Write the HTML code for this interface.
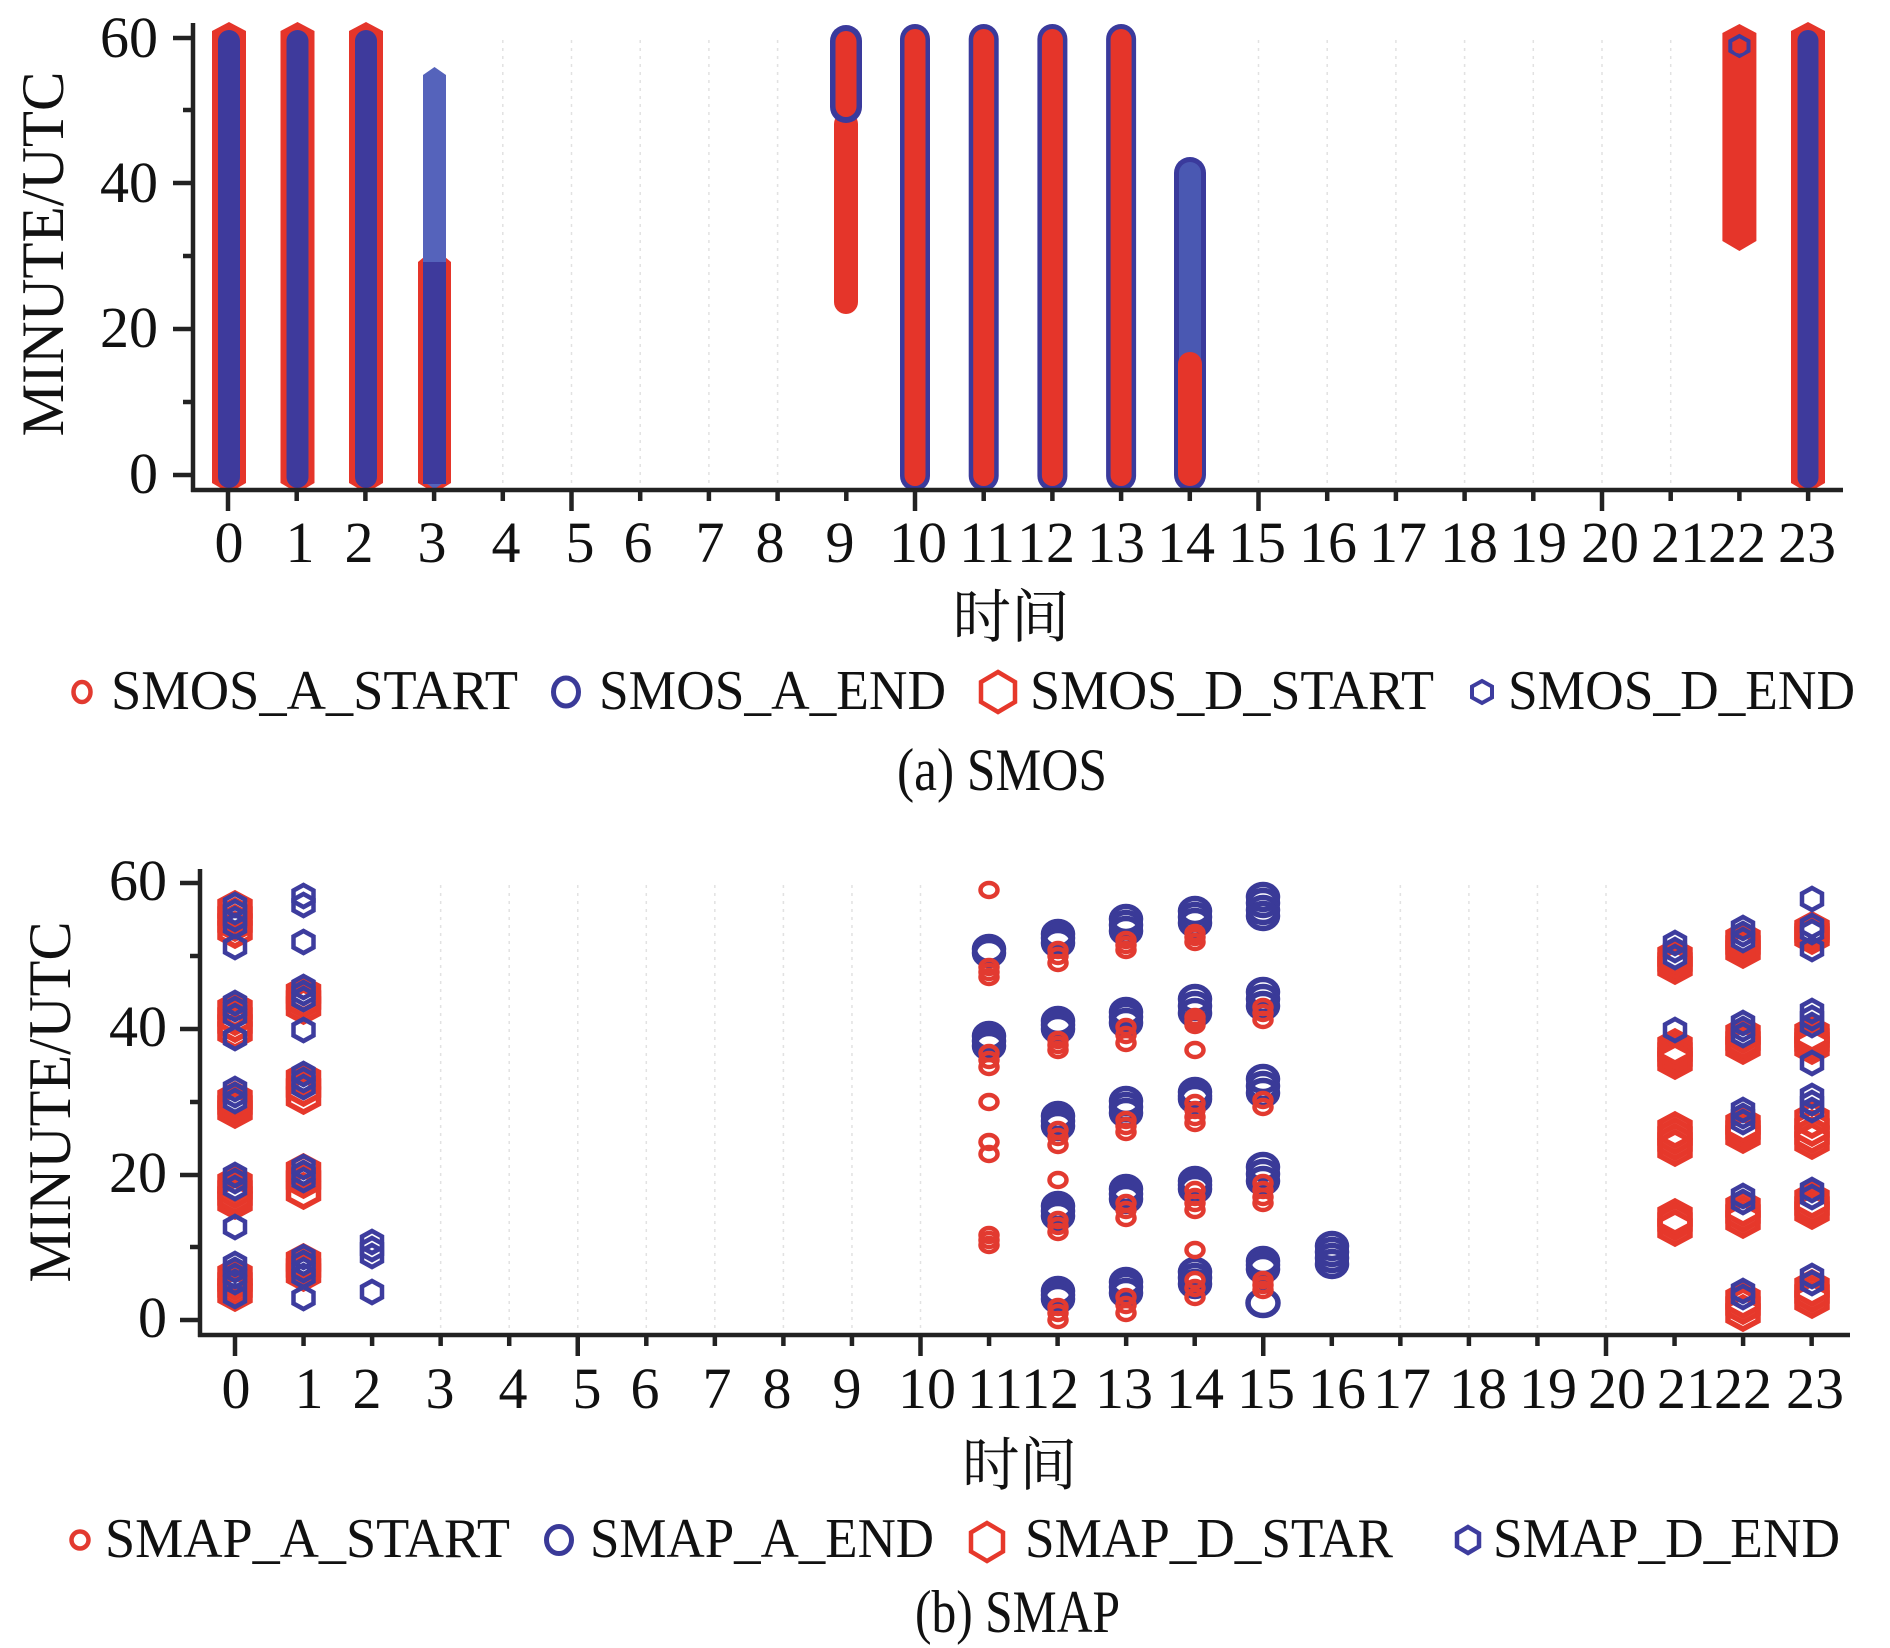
<!DOCTYPE html>
<html>
<head>
<meta charset="utf-8">
<style>
html,body{margin:0;padding:0;background:#fff;}
svg{display:block;}
text{font-family:"Liberation Serif","Noto Serif CJK SC",serif;fill:#111;}
.cjk{font-family:"Liberation Serif","Noto Serif CJK SC","Noto Sans CJK SC",serif;}
</style>
</head>
<body>
<svg width="1890" height="1648" viewBox="0 0 1890 1648" xmlns="http://www.w3.org/2000/svg" xmlns:xlink="http://www.w3.org/1999/xlink">
<defs>
  <ellipse id="as" rx="8.5" ry="7" fill="none" stroke="#e23a30" stroke-width="4.5"/>
  <ellipse id="ae" rx="14.5" ry="12.5" fill="none" stroke="#3a3a98" stroke-width="5.5"/>
  <polygon id="ds" points="0,-16 15,-8 15,8 0,16 -15,8 -15,-8" fill="none" stroke="#e6382b" stroke-width="5.5"/>
  <polygon id="de" points="0,-11 10,-5.5 10,5.5 0,11 -10,5.5 -10,-5.5" fill="none" stroke="#3d3c9e" stroke-width="4.5"/>
</defs>
<rect width="1890" height="1648" fill="#fff"/>

<!-- ================= TOP CHART (a) SMOS ================= -->
<g stroke="#e2e2e2" stroke-width="1.5" stroke-dasharray="3,5" fill="none">
<path d="M502.8 40V488M571.5 40V488M640.2 40V488M708.9 40V488M777.6 40V488M1258.5 40V488M1327.2 40V488M1395.9 40V488M1464.6 40V488M1533.3 40V488M1602 40V488M1670.7 40V488"/>
</g>

<g>
  <polygon points="229,22 246,31 246,483 229,493 212,483 212,31" fill="#e5352a"/>
  <rect x="218" y="30" width="22" height="458" rx="11" fill="#3e3a9c"/>
  <polygon points="297.5,22 314.5,31 314.5,483 297.5,493 280.5,483 280.5,31" fill="#e5352a"/>
  <rect x="286.5" y="30" width="22" height="458" rx="11" fill="#3e3a9c"/>
  <polygon points="366,22 383,31 383,483 366,493 349,483 349,31" fill="#e5352a"/>
  <rect x="355" y="30" width="22" height="458" rx="11" fill="#3e3a9c"/>
</g>
<g>
  <polygon points="418,262 424,257 445,257 451,262 451,483 434.5,493 418,483" fill="#e5352a"/>
  <polygon points="434.5,67 446,75 446,481 434.5,489 423,481 423,75" fill="#5563bb"/>
  <rect x="423" y="262" width="23" height="222" fill="#3e3a9c"/>
</g>
<g>
  <rect x="834" y="112" width="24" height="202" rx="12" fill="#e5352a"/>
  <rect x="830" y="25" width="32" height="98" rx="16" fill="#3a3a9c"/>
  <rect x="835.5" y="31" width="21" height="86" rx="10.5" fill="#e5352a"/>
</g>
<g>
  <rect x="900" y="24" width="30" height="467" rx="15" fill="#3a3a9c"/>
  <rect x="904.5" y="29" width="21" height="457" rx="10.5" fill="#e5352a"/>
  <rect x="968.7" y="24" width="30" height="467" rx="15" fill="#3a3a9c"/>
  <rect x="973.2" y="29" width="21" height="457" rx="10.5" fill="#e5352a"/>
  <rect x="1037.4" y="24" width="30" height="467" rx="15" fill="#3a3a9c"/>
  <rect x="1041.9" y="29" width="21" height="457" rx="10.5" fill="#e5352a"/>
  <rect x="1106.1" y="24" width="30" height="467" rx="15" fill="#3a3a9c"/>
  <rect x="1110.6" y="29" width="21" height="457" rx="10.5" fill="#e5352a"/>
</g>
<g>
  <rect x="1174" y="157" width="32" height="334" rx="16" fill="#3a3a9c"/>
  <rect x="1179" y="162" width="22" height="324" rx="11" fill="#4a58b2"/>
  <rect x="1178" y="352" width="24" height="134" rx="12" fill="#e5352a"/>
</g>
<g>
  <polygon points="1739.4,24 1756.4,33 1756.4,241 1739.4,251 1722.4,241 1722.4,33" fill="#e5352a"/>
  <polygon points="1739.4,36 1748.5,41 1748.5,51 1739.4,56 1730.3,51 1730.3,41" fill="none" stroke="#3d3c9e" stroke-width="4"/>
  <ellipse cx="1739.4" cy="48" rx="5" ry="4" fill="none" stroke="#e5352a" stroke-width="3"/>
</g>
<g>
  <polygon points="1808,22 1825,31 1825,483 1808,493 1791,483 1791,31" fill="#e5352a"/>
  <rect x="1797.5" y="30" width="21" height="458" rx="10.5" fill="#3e3a9c"/>
</g>

<g stroke="#222" stroke-width="4.5" fill="none">
  <path d="M193 23V492M191 490H1843"/>
  <path d="M173 38H193M183 110H193M173 183H193M183 256H193M173 329H193M183 402H193M173 475H193"/>
  <path d="M228 490V511M296.7 490V501M365.4 490V501M434.1 490V501M502.8 490V501M571.5 490V511M640.2 490V501M708.9 490V501M777.6 490V501M846.3 490V501M915 490V511M983.7 490V501M1052.4 490V501M1121.1 490V501M1189.8 490V501M1258.5 490V511M1327.2 490V501M1395.9 490V501M1464.6 490V501M1533.3 490V501M1602 490V511M1670.7 490V501M1739.4 490V501M1808.1 490V501"/>
</g>

<g font-size="58" text-anchor="end">
  <text x="158" y="57">60</text>
  <text x="158" y="202">40</text>
  <text x="158" y="347">20</text>
  <text x="158" y="493">0</text>
</g>
<text transform="translate(63,254) rotate(-90)" text-anchor="middle" font-size="60" textLength="365" lengthAdjust="spacingAndGlyphs">MINUTE/UTC</text>

<g font-size="58" text-anchor="middle">
  <text x="229" y="562">0</text><text x="300" y="562">1</text><text x="359" y="562">2</text><text x="432" y="562">3</text>
  <text x="506" y="562">4</text><text x="580" y="562">5</text><text x="638" y="562">6</text><text x="710" y="562">7</text>
  <text x="770" y="562">8</text><text x="840" y="562">9</text><text x="918" y="562">10</text><text x="987" y="562">11</text>
  <text x="1046" y="562">12</text><text x="1116" y="562">13</text><text x="1186" y="562">14</text><text x="1257" y="562">15</text>
  <text x="1328" y="562">16</text><text x="1398" y="562">17</text><text x="1469" y="562">18</text><text x="1538" y="562">19</text>
  <text x="1610" y="562">20</text><text x="1680" y="562">21</text><text x="1737" y="562">22</text><text x="1807" y="562">23</text>
</g>
<text class="cjk" x="1011" y="637" font-size="58" text-anchor="middle" textLength="117" lengthAdjust="spacingAndGlyphs">时间</text>

<g>
  <ellipse cx="82" cy="692" rx="8.5" ry="10" fill="none" stroke="#e23a30" stroke-width="4.5"/>
  <ellipse cx="566" cy="692" rx="12.5" ry="14" fill="none" stroke="#3a3a98" stroke-width="5"/>
  <polygon points="998,672 1015,682 1015,702 998,712 981,702 981,682" fill="none" stroke="#e6382b" stroke-width="4.5"/>
  <polygon points="1482,681 1492,686.5 1492,697.5 1482,703 1472,697.5 1472,686.5" fill="none" stroke="#3d3c9e" stroke-width="4"/>
</g>
<g font-size="56">
  <text x="111" y="709" textLength="407" lengthAdjust="spacingAndGlyphs">SMOS_A_START</text>
  <text x="599" y="709" textLength="347" lengthAdjust="spacingAndGlyphs">SMOS_A_END</text>
  <text x="1030" y="709" textLength="404" lengthAdjust="spacingAndGlyphs">SMOS_D_START</text>
  <text x="1508" y="709" textLength="347" lengthAdjust="spacingAndGlyphs">SMOS_D_END</text>
</g>
<text x="897" y="790" font-size="60" textLength="210" lengthAdjust="spacingAndGlyphs">(a) SMOS</text>

<!-- ================= BOTTOM CHART (b) SMAP ================= -->
<g stroke="#e2e2e2" stroke-width="1.5" stroke-dasharray="3,5" fill="none">
<path d="M440.65 885V1332M509.2 885V1332M577.75 885V1332M646.3 885V1332M714.85 885V1332M783.4 885V1332M851.95 885V1332M920.5 885V1332M1400.35 885V1332M1468.9 885V1332M1537.45 885V1332M1606 885V1332"/>
</g>

<g>
  <use href="#ds" x="235" y="909"/><use href="#ds" x="235" y="916"/><use href="#ds" x="235" y="923"/><use href="#ds" x="235" y="930"/>
  <use href="#de" x="235" y="905"/><use href="#de" x="235" y="912"/><use href="#de" x="235" y="919"/><use href="#de" x="235" y="926"/><use href="#de" x="235" y="947"/>
  <use href="#ds" x="235" y="1010"/><use href="#ds" x="235" y="1017"/><use href="#ds" x="235" y="1024"/><use href="#ds" x="235" y="1031"/>
  <use href="#de" x="235" y="1003"/><use href="#de" x="235" y="1009"/><use href="#de" x="235" y="1016"/><use href="#de" x="235" y="1038"/>
  <use href="#ds" x="235" y="1100"/><use href="#ds" x="235" y="1105"/><use href="#ds" x="235" y="1110"/>
  <use href="#de" x="235" y="1089"/><use href="#de" x="235" y="1095"/><use href="#de" x="235" y="1101"/>
  <use href="#ds" x="235" y="1184"/><use href="#ds" x="235" y="1190"/><use href="#ds" x="235" y="1196"/><use href="#ds" x="235" y="1201"/>
  <use href="#de" x="235" y="1175"/><use href="#de" x="235" y="1181"/><use href="#de" x="235" y="1188"/><use href="#de" x="235" y="1227"/>
  <use href="#ds" x="235" y="1276"/><use href="#ds" x="235" y="1282"/><use href="#ds" x="235" y="1288"/><use href="#ds" x="235" y="1293"/>
  <use href="#de" x="235" y="1264"/><use href="#de" x="235" y="1270"/><use href="#de" x="235" y="1276"/><use href="#de" x="235" y="1282"/><use href="#de" x="235" y="1296"/>
</g>
<g>
  <use href="#de" x="303.5" y="896"/><use href="#de" x="303.5" y="905"/><use href="#de" x="303.5" y="942"/>
  <use href="#ds" x="303.5" y="994"/><use href="#ds" x="303.5" y="1000"/><use href="#ds" x="303.5" y="1006"/>
  <use href="#de" x="303.5" y="987"/><use href="#de" x="303.5" y="993"/><use href="#de" x="303.5" y="999"/><use href="#de" x="303.5" y="1030"/>
  <use href="#ds" x="303.5" y="1080"/><use href="#ds" x="303.5" y="1088"/><use href="#ds" x="303.5" y="1096"/>
  <use href="#de" x="303.5" y="1074"/><use href="#de" x="303.5" y="1080"/><use href="#de" x="303.5" y="1087"/>
  <use href="#ds" x="303.5" y="1172"/><use href="#ds" x="303.5" y="1180"/><use href="#ds" x="303.5" y="1191"/>
  <use href="#de" x="303.5" y="1167"/><use href="#de" x="303.5" y="1173"/><use href="#de" x="303.5" y="1180"/>
  <use href="#ds" x="303.5" y="1262"/><use href="#ds" x="303.5" y="1268"/><use href="#ds" x="303.5" y="1273"/>
  <use href="#de" x="303.5" y="1257"/><use href="#de" x="303.5" y="1263"/><use href="#de" x="303.5" y="1270"/><use href="#de" x="303.5" y="1276"/><use href="#de" x="303.5" y="1298"/>
</g>
<g>
  <use href="#de" x="372" y="1242"/><use href="#de" x="372" y="1249"/><use href="#de" x="372" y="1256"/><use href="#de" x="372" y="1292"/>
</g>

<g>
  <use href="#ae" x="989" y="949"/><use href="#ae" x="989" y="953"/>
  <use href="#ae" x="989" y="1036"/><use href="#ae" x="989" y="1041"/><use href="#ae" x="989" y="1046"/>
  <use href="#as" x="989" y="890"/>
  <use href="#as" x="989" y="967"/><use href="#as" x="989" y="972"/><use href="#as" x="989" y="977"/>
  <use href="#as" x="989" y="1053"/><use href="#as" x="989" y="1060"/><use href="#as" x="989" y="1067"/>
  <use href="#as" x="989" y="1102"/>
  <use href="#as" x="989" y="1142"/><use href="#as" x="989" y="1154"/>
  <use href="#as" x="989" y="1235"/><use href="#as" x="989" y="1240"/><use href="#as" x="989" y="1245"/>
</g>
<g>
  <use href="#ae" x="1058" y="934"/><use href="#ae" x="1058" y="938"/><use href="#ae" x="1058" y="943"/>
  <use href="#ae" x="1058" y="1021"/><use href="#ae" x="1058" y="1025"/><use href="#ae" x="1058" y="1029"/>
  <use href="#ae" x="1058" y="1116"/><use href="#ae" x="1058" y="1121"/><use href="#ae" x="1058" y="1126"/>
  <use href="#ae" x="1058" y="1206"/><use href="#ae" x="1058" y="1211"/><use href="#ae" x="1058" y="1216"/>
  <use href="#ae" x="1058" y="1291"/><use href="#ae" x="1058" y="1295"/><use href="#ae" x="1058" y="1299"/>
  <use href="#as" x="1058" y="950"/><use href="#as" x="1058" y="956"/><use href="#as" x="1058" y="963"/>
  <use href="#as" x="1058" y="1040"/><use href="#as" x="1058" y="1045"/><use href="#as" x="1058" y="1050"/>
  <use href="#as" x="1058" y="1130"/><use href="#as" x="1058" y="1137"/><use href="#as" x="1058" y="1145"/>
  <use href="#as" x="1058" y="1180"/>
  <use href="#as" x="1058" y="1220"/><use href="#as" x="1058" y="1226"/><use href="#as" x="1058" y="1232"/>
  <use href="#as" x="1058" y="1307"/><use href="#as" x="1058" y="1313"/><use href="#as" x="1058" y="1320"/>
</g>
<g>
  <use href="#ae" x="1126" y="919"/><use href="#ae" x="1126" y="925"/><use href="#ae" x="1126" y="931"/>
  <use href="#ae" x="1126" y="1012"/><use href="#ae" x="1126" y="1017"/><use href="#ae" x="1126" y="1023"/>
  <use href="#ae" x="1126" y="1101"/><use href="#ae" x="1126" y="1107"/><use href="#ae" x="1126" y="1113"/>
  <use href="#ae" x="1126" y="1189"/><use href="#ae" x="1126" y="1194"/><use href="#ae" x="1126" y="1199"/>
  <use href="#ae" x="1126" y="1282"/><use href="#ae" x="1126" y="1287"/><use href="#ae" x="1126" y="1293"/>
  <use href="#as" x="1126" y="940"/><use href="#as" x="1126" y="945"/><use href="#as" x="1126" y="950"/>
  <use href="#as" x="1126" y="1027"/><use href="#as" x="1126" y="1035"/><use href="#as" x="1126" y="1043"/>
  <use href="#as" x="1126" y="1120"/><use href="#as" x="1126" y="1126"/><use href="#as" x="1126" y="1132"/>
  <use href="#as" x="1126" y="1203"/><use href="#as" x="1126" y="1210"/><use href="#as" x="1126" y="1218"/>
  <use href="#as" x="1126" y="1297"/><use href="#as" x="1126" y="1305"/><use href="#as" x="1126" y="1313"/>
</g>
<g>
  <use href="#ae" x="1195" y="911"/><use href="#ae" x="1195" y="917"/><use href="#ae" x="1195" y="923"/>
  <use href="#ae" x="1195" y="999"/><use href="#ae" x="1195" y="1006"/><use href="#ae" x="1195" y="1013"/>
  <use href="#ae" x="1195" y="1092"/><use href="#ae" x="1195" y="1096"/><use href="#ae" x="1195" y="1099"/>
  <use href="#ae" x="1195" y="1181"/><use href="#ae" x="1195" y="1185"/><use href="#ae" x="1195" y="1189"/>
  <use href="#ae" x="1195" y="1272"/><use href="#ae" x="1195" y="1278"/><use href="#ae" x="1195" y="1284"/>
  <use href="#as" x="1195" y="933"/><use href="#as" x="1195" y="937"/><use href="#as" x="1195" y="942"/>
  <use href="#as" x="1195" y="1017"/><use href="#as" x="1195" y="1021"/><use href="#as" x="1195" y="1025"/>
  <use href="#as" x="1195" y="1050"/>
  <use href="#as" x="1195" y="1103"/><use href="#as" x="1195" y="1110"/><use href="#as" x="1195" y="1117"/><use href="#as" x="1195" y="1123"/>
  <use href="#as" x="1195" y="1190"/><use href="#as" x="1195" y="1197"/><use href="#as" x="1195" y="1203"/><use href="#as" x="1195" y="1210"/>
  <use href="#as" x="1195" y="1250"/>
  <use href="#as" x="1195" y="1280"/><use href="#as" x="1195" y="1288"/><use href="#as" x="1195" y="1297"/>
</g>
<g>
  <use href="#ae" x="1263" y="897"/><use href="#ae" x="1263" y="903"/><use href="#ae" x="1263" y="910"/><use href="#ae" x="1263" y="916"/>
  <use href="#ae" x="1263" y="992"/><use href="#ae" x="1263" y="999"/><use href="#ae" x="1263" y="1006"/>
  <use href="#ae" x="1263" y="1079"/><use href="#ae" x="1263" y="1086"/><use href="#ae" x="1263" y="1093"/>
  <use href="#ae" x="1263" y="1167"/><use href="#ae" x="1263" y="1174"/><use href="#ae" x="1263" y="1181"/>
  <use href="#ae" x="1263" y="1261"/><use href="#ae" x="1263" y="1265"/><use href="#ae" x="1263" y="1269"/>
  <ellipse cx="1263" cy="1303" rx="15" ry="12.5" fill="none" stroke="#3a3a98" stroke-width="5.5"/>
  <use href="#as" x="1263" y="1007"/><use href="#as" x="1263" y="1013"/><use href="#as" x="1263" y="1020"/>
  <use href="#as" x="1263" y="1100"/><use href="#as" x="1263" y="1107"/>
  <use href="#as" x="1263" y="1183"/><use href="#as" x="1263" y="1190"/><use href="#as" x="1263" y="1197"/><use href="#as" x="1263" y="1203"/>
  <use href="#as" x="1263" y="1280"/><use href="#as" x="1263" y="1285"/><use href="#as" x="1263" y="1290"/>
</g>
<g>
  <use href="#ae" x="1332" y="1246"/><use href="#ae" x="1332" y="1252"/><use href="#ae" x="1332" y="1258"/><use href="#ae" x="1332" y="1264"/>
</g>

<g>
  <use href="#ds" x="1675" y="957"/><use href="#ds" x="1675" y="962"/><use href="#ds" x="1675" y="966"/>
  <use href="#ds" x="1675" y="1047"/><use href="#ds" x="1675" y="1052"/><use href="#ds" x="1675" y="1057"/><use href="#ds" x="1675" y="1061"/>
  <use href="#ds" x="1675" y="1130"/><use href="#ds" x="1675" y="1136"/><use href="#ds" x="1675" y="1142"/><use href="#ds" x="1675" y="1148"/>
  <use href="#ds" x="1675" y="1217"/><use href="#ds" x="1675" y="1222"/><use href="#ds" x="1675" y="1228"/>
  <use href="#de" x="1675" y="943"/><use href="#de" x="1675" y="950"/><use href="#de" x="1675" y="957"/>
  <use href="#de" x="1675" y="1030"/>
</g>
<g>
  <use href="#ds" x="1743" y="940"/><use href="#ds" x="1743" y="945"/><use href="#ds" x="1743" y="950"/>
  <use href="#ds" x="1743" y="1035"/><use href="#ds" x="1743" y="1041"/><use href="#ds" x="1743" y="1046"/>
  <use href="#ds" x="1743" y="1125"/><use href="#ds" x="1743" y="1130"/><use href="#ds" x="1743" y="1135"/>
  <use href="#ds" x="1743" y="1208"/><use href="#ds" x="1743" y="1214"/><use href="#ds" x="1743" y="1220"/>
  <use href="#ds" x="1743" y="1300"/><use href="#ds" x="1743" y="1306"/><use href="#ds" x="1743" y="1313"/>
  <use href="#de" x="1743" y="928"/><use href="#de" x="1743" y="934"/><use href="#de" x="1743" y="940"/>
  <use href="#de" x="1743" y="1023"/><use href="#de" x="1743" y="1029"/><use href="#de" x="1743" y="1035"/>
  <use href="#de" x="1743" y="1110"/><use href="#de" x="1743" y="1116"/><use href="#de" x="1743" y="1122"/>
  <use href="#de" x="1743" y="1196"/><use href="#de" x="1743" y="1202"/>
  <use href="#de" x="1743" y="1291"/><use href="#de" x="1743" y="1297"/>
</g>
<g>
  <use href="#ds" x="1812" y="930"/><use href="#ds" x="1812" y="933"/><use href="#ds" x="1812" y="936"/>
  <use href="#ds" x="1812" y="1034"/><use href="#ds" x="1812" y="1038"/><use href="#ds" x="1812" y="1042"/><use href="#ds" x="1812" y="1046"/>
  <use href="#ds" x="1812" y="1120"/><use href="#ds" x="1812" y="1128"/><use href="#ds" x="1812" y="1135"/><use href="#ds" x="1812" y="1141"/>
  <use href="#ds" x="1812" y="1200"/><use href="#ds" x="1812" y="1206"/><use href="#ds" x="1812" y="1211"/>
  <use href="#ds" x="1812" y="1288"/><use href="#ds" x="1812" y="1294"/><use href="#ds" x="1812" y="1300"/>
  <use href="#de" x="1812" y="899"/>
  <use href="#de" x="1812" y="926"/><use href="#de" x="1812" y="932"/><use href="#de" x="1812" y="949"/>
  <use href="#de" x="1812" y="1011"/><use href="#de" x="1812" y="1018"/><use href="#de" x="1812" y="1025"/><use href="#de" x="1812" y="1063"/>
  <use href="#de" x="1812" y="1096"/><use href="#de" x="1812" y="1103"/><use href="#de" x="1812" y="1110"/>
  <use href="#de" x="1812" y="1190"/><use href="#de" x="1812" y="1197"/>
  <use href="#de" x="1812" y="1276"/><use href="#de" x="1812" y="1283"/>
</g>

<g stroke="#222" stroke-width="4.5" fill="none">
  <path d="M200 869V1337M198 1335H1850"/>
  <path d="M180 883H200M190 956H200M180 1029H200M190 1102H200M180 1175H200M190 1247H200M180 1320H200"/>
  <path d="M235 1335V1356M303.55 1335V1346M372.1 1335V1346M440.65 1335V1346M509.2 1335V1346M577.75 1335V1356M646.3 1335V1346M714.85 1335V1346M783.4 1335V1346M851.95 1335V1346M920.5 1335V1356M989.05 1335V1346M1057.6 1335V1346M1126.15 1335V1346M1194.7 1335V1346M1263.25 1335V1356M1331.8 1335V1346M1400.35 1335V1346M1468.9 1335V1346M1537.45 1335V1346M1606 1335V1356M1674.55 1335V1346M1743.1 1335V1346M1811.65 1335V1346"/>
</g>

<g font-size="58" text-anchor="end">
  <text x="167" y="900">60</text>
  <text x="167" y="1046">40</text>
  <text x="167" y="1192">20</text>
  <text x="167" y="1337">0</text>
</g>
<text transform="translate(70,1102) rotate(-90)" text-anchor="middle" font-size="60" textLength="361" lengthAdjust="spacingAndGlyphs">MINUTE/UTC</text>

<g font-size="58" text-anchor="middle">
  <text x="236" y="1408">0</text><text x="309" y="1408">1</text><text x="367" y="1408">2</text><text x="440" y="1408">3</text>
  <text x="513" y="1408">4</text><text x="587" y="1408">5</text><text x="645" y="1408">6</text><text x="717" y="1408">7</text>
  <text x="777" y="1408">8</text><text x="847" y="1408">9</text><text x="927" y="1408">10</text><text x="995" y="1408">11</text>
  <text x="1050" y="1408">12</text><text x="1124" y="1408">13</text><text x="1195" y="1408">14</text><text x="1266" y="1408">15</text>
  <text x="1337" y="1408">16</text><text x="1402" y="1408">17</text><text x="1478" y="1408">18</text><text x="1548" y="1408">19</text>
  <text x="1617" y="1408">20</text><text x="1686" y="1408">21</text><text x="1743" y="1408">22</text><text x="1815" y="1408">23</text>
</g>
<text class="cjk" x="1019.5" y="1485" font-size="58" text-anchor="middle" textLength="115" lengthAdjust="spacingAndGlyphs">时间</text>

<g>
  <ellipse cx="80" cy="1540" rx="8.5" ry="8.5" fill="none" stroke="#e23a30" stroke-width="4.5"/>
  <ellipse cx="559" cy="1540" rx="12.5" ry="13.5" fill="none" stroke="#3a3a98" stroke-width="5"/>
  <polygon points="987,1523 1003,1532.5 1003,1551.5 987,1561 971,1551.5 971,1532.5" fill="none" stroke="#e6382b" stroke-width="4.5"/>
  <polygon points="1468,1527 1479,1533.5 1479,1546.5 1468,1553 1457,1546.5 1457,1533.5" fill="none" stroke="#3d3c9e" stroke-width="4.5"/>
</g>
<g font-size="56">
  <text x="105" y="1557" textLength="405" lengthAdjust="spacingAndGlyphs">SMAP_A_START</text>
  <text x="590" y="1557" textLength="344" lengthAdjust="spacingAndGlyphs">SMAP_A_END</text>
  <text x="1025" y="1557" textLength="368" lengthAdjust="spacingAndGlyphs">SMAP_D_STAR</text>
  <text x="1493" y="1557" textLength="347" lengthAdjust="spacingAndGlyphs">SMAP_D_END</text>
</g>
<text x="915" y="1632" font-size="60" textLength="205" lengthAdjust="spacingAndGlyphs">(b) SMAP</text>
</svg>
</body>
</html>
